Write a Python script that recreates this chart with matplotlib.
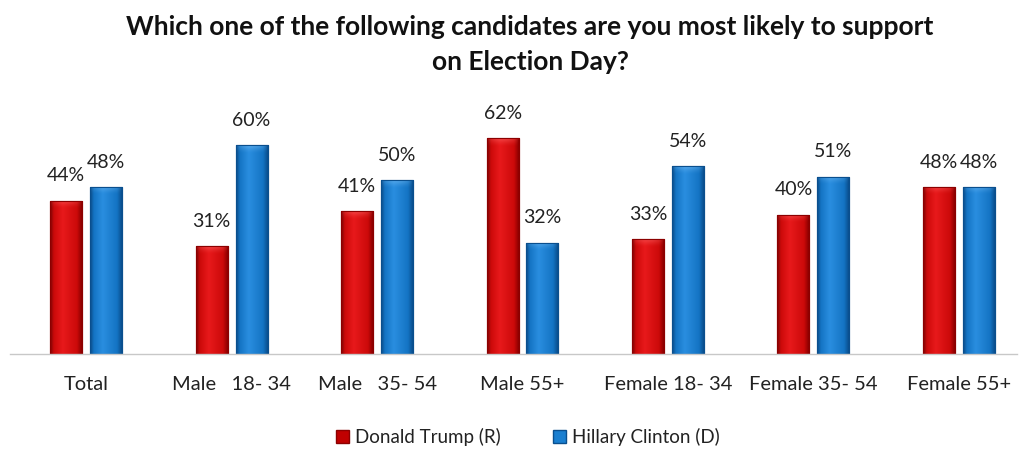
import numpy as np
import matplotlib
matplotlib.use("Agg")
import matplotlib.pyplot as plt
from matplotlib.patches import Patch
from matplotlib.colors import to_rgb

plt.rcParams['font.family'] = ['Lato', 'DejaVu Sans']

categories = ["Total", "Male   18- 34", "Male   35- 54", "Male 55+",
              "Female 18- 34", "Female 35- 54", "Female 55+"]
trump = [44, 31, 41, 62, 33, 40, 48]
clinton = [48, 60, 50, 32, 54, 51, 48]
series_names = ["Donald Trump (R)", "Hillary Clinton (D)"]

W, H = 1019, 450
fig = plt.figure(figsize=(W / 100, H / 100), dpi=100)
ax = fig.add_axes([10 / W, (H - 354) / H, (1017 - 10) / W, (354 - 100) / H])

ax.set_xlim(-0.524, 6.40)
ax.set_ylim(0, 254 / 3.48)

x = np.arange(len(categories))
width = 0.22
offset = 0.137

# shading palettes: left edge, highlight, body, right edge, top cap
shades = {
    "red": ["#7a0505", "#e8191b", "#cc0a0a", "#8c0000", "#ff6a6a"],
    "blue": ["#0c4b86", "#2a8ee0", "#1474c4", "#0a4f8e", "#7cc0f5"],
}


def shaded_bar(xc, h, key):
    pal = shades[key]
    rect = ax.bar(xc, h, width, color=pal[2], edgecolor=pal[3], linewidth=0.8, zorder=2)[0]
    # horizontal gradient across the bar
    stops = np.array([0.0, 0.12, 0.4, 0.85, 1.0])
    cols = np.array([to_rgb(pal[0]), to_rgb(pal[2]), to_rgb(pal[1]),
                     to_rgb(pal[2]), to_rgb(pal[3])])
    n = 64
    t = np.linspace(0, 1, n)
    row = np.stack([np.interp(t, stops, cols[:, k]) for k in range(3)], axis=-1)
    # vertical: lighter rounded cap at the top
    m = 200
    cap_units = 2.2
    yy = np.linspace(h, 0, m)
    capw = np.clip((yy - (h - cap_units)) / cap_units, 0, 1)
    bump = np.sin(np.pi * t) ** 0.6
    img = np.empty((m, n, 3))
    cap = np.array(to_rgb(pal[4]))
    for i in range(m):
        wgt = (capw[i] ** 1.5) * 0.55 * bump
        img[i] = row * (1 - wgt[:, None]) + cap * wgt[:, None]
    im = ax.imshow(img, extent=[xc - width / 2, xc + width / 2, 0, h],
                   aspect='auto', zorder=2.1, interpolation='bilinear')
    im.set_clip_path(rect)
    ax.add_patch(plt.Rectangle((xc - width / 2, 0), width, h, fill=False,
                               edgecolor=pal[3], linewidth=0.8, zorder=2.2))
    ax.annotate(f"{h}%", (xc, h), xytext=(0, 14), textcoords='offset points',
                ha='center', va='baseline', fontsize=14, color='#222222')


for i in range(len(categories)):
    shaded_bar(x[i] - offset, trump[i], "red")
    shaded_bar(x[i] + offset, clinton[i], "blue")

ax.set_xticks(x)
ax.set_xticklabels(categories, fontsize=14.5, color='#222222')
ax.tick_params(axis='x', length=0, pad=16)
ax.set_yticks([])
for side in ['left', 'right', 'top']:
    ax.spines[side].set_visible(False)
ax.spines['bottom'].set_color('#c8c8c8')
ax.spines['bottom'].set_linewidth(1.0)

fig.text(530 / W, 1 - 27 / H, "Which one of the following candidates are you most likely to support",
         ha='center', va='center', fontsize=19, fontweight='bold', color='#111111')
fig.text(530 / W, 1 - 62 / H, "on Election Day?",
         ha='center', va='center', fontsize=19, fontweight='bold', color='#111111')

handles = [Patch(facecolor='#c00000', edgecolor='#8c0000'),
           Patch(facecolor='#1a7fd0', edgecolor='#0a4f8e')]
fig.legend(handles, series_names, loc='center', bbox_to_anchor=(528 / W, 1 - 437 / H),
           ncol=2, frameon=False, fontsize=13.5, handlelength=0.7, handleheight=0.7,
           handletextpad=0.3, columnspacing=2.8, labelcolor='#222222')

fig.savefig("out.png", dpi=100)
